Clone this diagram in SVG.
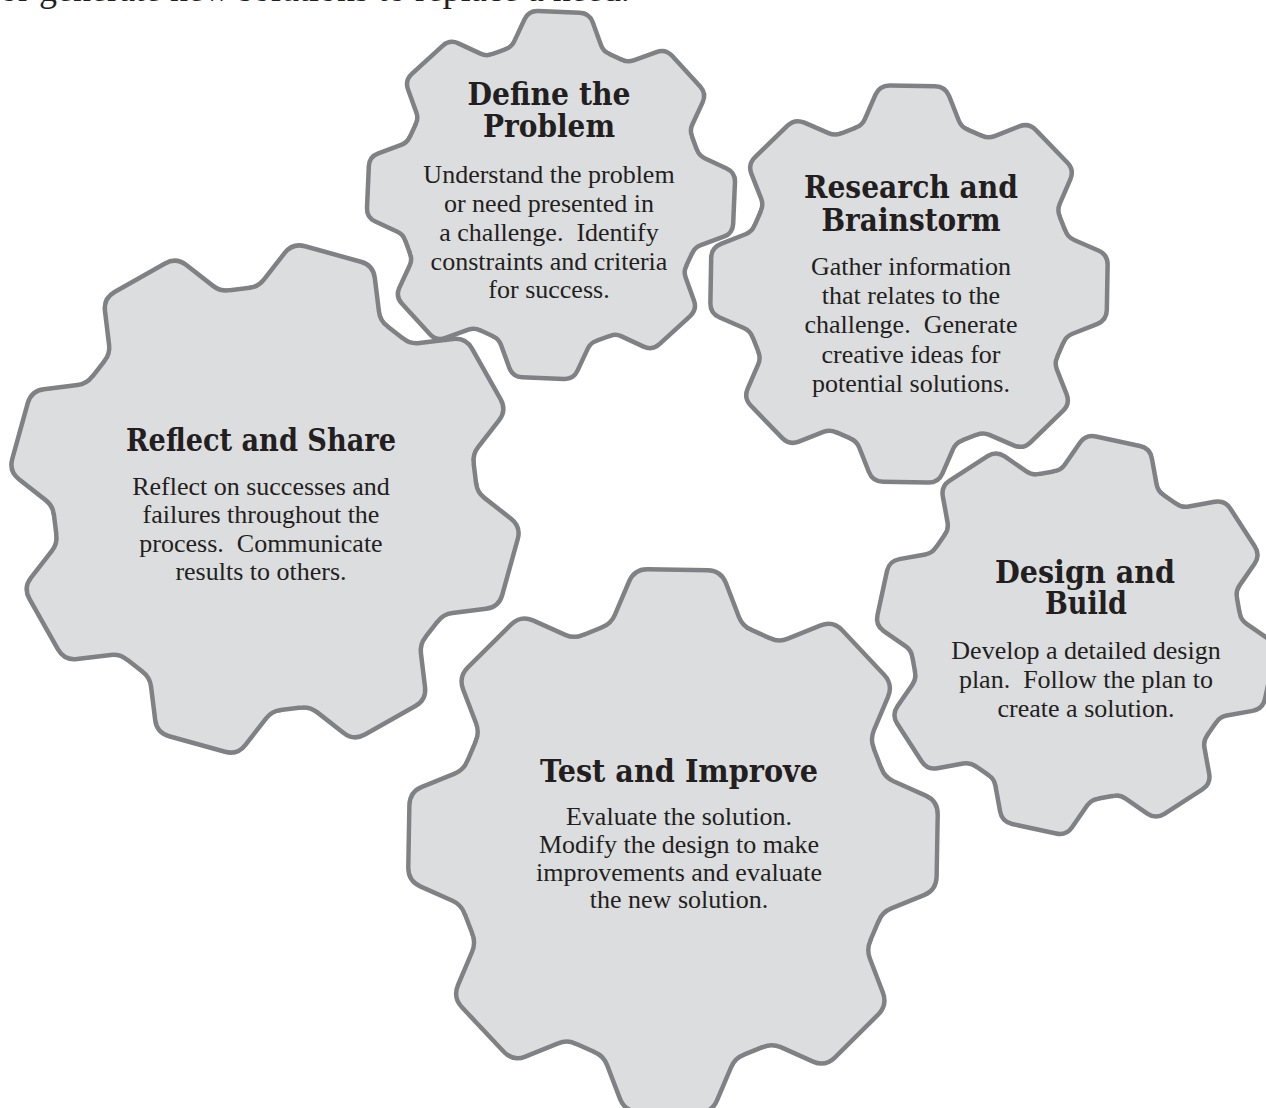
<svg xmlns="http://www.w3.org/2000/svg" width="1266" height="1108" viewBox="0 0 1266 1108">
<style>
.edge{fill:none;stroke:#808184;stroke-linejoin:round}
.face{fill:#dcdddf;stroke:none}
.title{font-family:'DejaVu Serif Condensed','DejaVu Serif',serif;font-weight:bold;font-size:31px;fill:#231f20;text-anchor:middle}
.txt{font-family:'Liberation Serif','Times New Roman',serif;font-size:26px;fill:#231f20;text-anchor:middle}
.top{font-family:'Liberation Serif','Times New Roman',serif;font-size:36px;fill:#231f20}
</style>
<defs>
<path id="tooth" d="M-28.1,-78.2 Q-24.4,-79.73 -22.87,-83.43 L-17.72,-95.84 Q-16,-100 -11.5,-100 L11.5,-100 Q16,-100 17.72,-95.84 L22.87,-83.43 Q24.4,-79.73 28.1,-78.2 L28.1,-60 L-28.1,-60 Z"/>
<g id="gear">
<path d="M0,-89.84 L63.53,-63.53 L89.84,0 L63.53,63.53 L0,89.84 L-63.53,63.53 L-89.84,0 L-63.53,-63.53 Z"/>
<use href="#tooth"/>
<use href="#tooth" transform="rotate(45)"/>
<use href="#tooth" transform="rotate(90)"/>
<use href="#tooth" transform="rotate(135)"/>
<use href="#tooth" transform="rotate(180)"/>
<use href="#tooth" transform="rotate(225)"/>
<use href="#tooth" transform="rotate(270)"/>
<use href="#tooth" transform="rotate(315)"/>
</g>
</defs>
<rect width="1266" height="1108" fill="#ffffff"/>
<text class="top" x="0" y="1">or generate new solutions to replace a need.</text>

<g id="define-problem">
<g transform="translate(551 195) rotate(2.5) scale(1.81)">
<use href="#gear" class="edge" stroke-width="4.97"/>
<use href="#gear" class="face"/>
</g>
<text class="title" x="549" y="105" textLength="163" lengthAdjust="spacingAndGlyphs">Define the</text>
<text class="title" x="549" y="137" textLength="132" lengthAdjust="spacingAndGlyphs">Problem</text>
<text class="txt" x="549" y="183">Understand the problem</text>
<text class="txt" x="549" y="212">or need presented in</text>
<text class="txt" x="549" y="241" xml:space="preserve">a challenge.  Identify</text>
<text class="txt" x="549" y="270">constraints and criteria</text>
<text class="txt" x="549" y="298">for success.</text>
</g>

<g id="research-brainstorm">
<g transform="translate(909 284) rotate(1) scale(1.96)">
<use href="#gear" class="edge" stroke-width="4.59"/>
<use href="#gear" class="face"/>
</g>
<text class="title" x="911" y="198" textLength="214" lengthAdjust="spacingAndGlyphs">Research and</text>
<text class="title" x="911" y="231" textLength="179" lengthAdjust="spacingAndGlyphs">Brainstorm</text>
<text class="txt" x="911" y="275">Gather information</text>
<text class="txt" x="911" y="304">that relates to the</text>
<text class="txt" x="911" y="333" xml:space="preserve">challenge.  Generate</text>
<text class="txt" x="911" y="363">creative ideas for</text>
<text class="txt" x="911" y="392">potential solutions.</text>
</g>

<g id="reflect-share">
<g transform="translate(265 499) rotate(15.5) scale(2.52)">
<use href="#gear" class="edge" stroke-width="3.57"/>
<use href="#gear" class="face"/>
</g>
<text class="title" x="261" y="451" textLength="270" lengthAdjust="spacingAndGlyphs">Reflect and Share</text>
<text class="txt" x="261" y="495">Reflect on successes and</text>
<text class="txt" x="261" y="523">failures throughout the</text>
<text class="txt" x="261" y="552" xml:space="preserve">process.  Communicate</text>
<text class="txt" x="261" y="580">results to others.</text>
</g>

<g id="design-build">
<g transform="translate(1076 635) rotate(12.2) scale(1.96)">
<use href="#gear" class="edge" stroke-width="4.59"/>
<use href="#gear" class="face"/>
</g>
<text class="title" x="1085" y="583" textLength="180" lengthAdjust="spacingAndGlyphs">Design and</text>
<text class="title" x="1086" y="614" textLength="82" lengthAdjust="spacingAndGlyphs">Build</text>
<text class="txt" x="1086" y="659">Develop a detailed design</text>
<text class="txt" x="1086" y="688" xml:space="preserve">plan.  Follow the plan to</text>
<text class="txt" x="1086" y="717">create a solution.</text>
</g>

<g id="test-improve">
<g transform="translate(673 841) rotate(1) scale(2.62 2.69)">
<use href="#gear" class="edge" stroke-width="3.38"/>
<use href="#gear" class="face"/>
</g>
<text class="title" x="679" y="782" textLength="278" lengthAdjust="spacingAndGlyphs">Test and Improve</text>
<text class="txt" x="679" y="825">Evaluate the solution.</text>
<text class="txt" x="679" y="853">Modify the design to make</text>
<text class="txt" x="679" y="881">improvements and evaluate</text>
<text class="txt" x="679" y="908">the new solution.</text>
</g>

<g id="connectors"/>
</svg>
